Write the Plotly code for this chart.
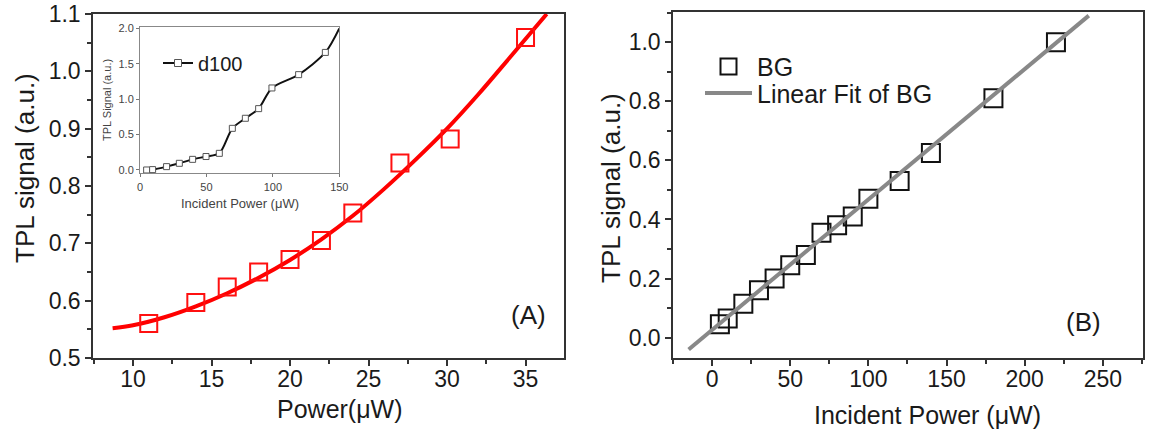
import plotly.graph_objects as go

# ---------------- data ----------------
# Panel A: main red squares and fitted curve
powerA = [11, 14, 16, 18, 20, 22, 24, 27, 30.2, 35]
tplA = [0.560, 0.597, 0.624, 0.650, 0.672, 0.705, 0.753, 0.840, 0.882, 1.059]
fitA_x = [8.7, 10, 12, 14, 16, 18, 20, 22, 24, 26, 28, 30, 32, 34, 36.35]
fitA_y = [0.552, 0.557, 0.571, 0.590, 0.613, 0.640, 0.671, 0.707, 0.748,
          0.795, 0.846, 0.900, 0.960, 1.024, 1.100]

# Inset: d100
d100_x = [5, 9.5, 20, 29.6, 39.6, 49.7, 59.7, 69.5, 79.3, 89.3, 99.3, 119.4, 139.5]
d100_y = [0.0, 0.005, 0.047, 0.094, 0.15, 0.19, 0.235, 0.588, 0.73, 0.866,
          1.158, 1.346, 1.66]
d100_curve_x = [5, 9.5, 20, 29.6, 39.6, 49.7, 59.7, 69.5, 79.3, 89.3, 99.3,
                119.4, 139.5, 150]
d100_curve_y = [0.0, 0.005, 0.047, 0.094, 0.15, 0.19, 0.235, 0.588, 0.73,
                0.866, 1.158, 1.346, 1.66, 2.0]

# Panel B: BG squares and linear fit
powerB = [5, 10, 20, 30, 40, 50, 60, 70, 80, 90, 100, 120, 140, 180, 220]
tplB = [0.045, 0.065, 0.115, 0.16, 0.20, 0.245, 0.28, 0.355, 0.38, 0.41,
        0.47, 0.53, 0.625, 0.81, 1.0]
fitB_x = [-15, 241]
fitB_y = [-0.04, 1.09]

# tick values
ticksA_x = [10, 15, 20, 25, 30, 35]
ticksA_y = [0.5, 0.6, 0.7, 0.8, 0.9, 1.0, 1.1]
ticksB_x = [0, 50, 100, 150, 200, 250]
ticksB_y = [0.0, 0.2, 0.4, 0.6, 0.8, 1.0]
ticksI_x = [0, 50, 100, 150]
ticksI_y = [0.0, 0.5, 1.0, 1.5, 2.0]

FONT = "Liberation Sans, Arial, sans-serif"
W, H = 1154, 434
AX = "#333333"
TXT = "#1a1a1a"

fig = go.Figure()

# Panel A
fig.add_trace(go.Scatter(x=fitA_x, y=fitA_y, mode="lines", line=dict(color="#ff0000", width=4, shape="spline"),
                         xaxis="x", yaxis="y", showlegend=False))
fig.add_trace(go.Scatter(x=powerA, y=tplA, mode="markers",
                         marker=dict(symbol="square-open", size=17, color="#ff1010", line=dict(width=2)),
                         xaxis="x", yaxis="y", showlegend=False))

# Inset
fig.add_trace(go.Scatter(x=d100_curve_x, y=d100_curve_y, mode="lines",
                         line=dict(color="#111111", width=2, shape="spline", smoothing=0.8),
                         xaxis="x3", yaxis="y3", showlegend=False))
fig.add_trace(go.Scatter(x=d100_x, y=d100_y, mode="markers",
                         marker=dict(symbol="square", size=6, color="white", line=dict(color="#555555", width=1)),
                         xaxis="x3", yaxis="y3", showlegend=False))
fig.add_trace(go.Scatter(x=[None], y=[None], mode="lines+markers", name="d100",
                         line=dict(color="#111111", width=2),
                         marker=dict(symbol="square", size=7, color="white", line=dict(color="#555555", width=1)),
                         xaxis="x3", yaxis="y3", legend="legend2"))

# Panel B
fig.add_trace(go.Scatter(x=powerB, y=tplB, mode="markers", name="BG",
                         marker=dict(symbol="square-open", size=18, color="#111111", line=dict(width=2)),
                         xaxis="x2", yaxis="y2", legend="legend"))
fig.add_trace(go.Scatter(x=fitB_x, y=fitB_y, mode="lines", name="Linear Fit of BG",
                         line=dict(color="#888888", width=4),
                         xaxis="x2", yaxis="y2", legend="legend3"))


def px_x(p):
    return p / W


def px_y(p):
    return 1 - p / H


main_axis = dict(showline=True, linecolor=AX, linewidth=1.5, mirror=True, ticks="outside",
                 ticklen=6, tickwidth=1.5, tickcolor=AX, showgrid=False, zeroline=False,
                 automargin=False, ticklabeloverflow="allow",
                 tickfont=dict(family=FONT, size=23, color=TXT))
inset_axis = dict(showline=True, linecolor="#888888", linewidth=1, mirror=True, ticks="outside",
                  ticklen=3, tickwidth=1, tickcolor="#777777", showgrid=False, zeroline=False,
                  automargin=False, tickfont=dict(family=FONT, size=11, color="#444444"))

legend_common = dict(xanchor="left", yanchor="middle", bgcolor="rgba(0,0,0,0)", borderwidth=0)

fig.update_layout(
    width=W, height=H, margin=dict(l=0, r=0, t=0, b=0, autoexpand=False),
    paper_bgcolor="white", plot_bgcolor="white",
    font=dict(family=FONT, color=TXT),
    xaxis=dict(main_axis, domain=[px_x(93), px_x(564)], range=[7.45, 37.45], tickvals=ticksA_x,
               ticklabelstandoff=-6,
               minor=dict(dtick=2.5, tick0=7.5, ticks="outside", ticklen=4, tickcolor=AX), anchor="y"),
    yaxis=dict(main_axis, domain=[px_y(358), px_y(14)], range=[0.5, 1.1], tickvals=ticksA_y,
               tickformat=".1f",
               minor=dict(dtick=0.05, tick0=0.5, ticks="outside", ticklen=4, tickcolor=AX), anchor="x"),
    xaxis2=dict(main_axis, domain=[px_x(673), px_x(1142.7)], range=[-25, 275.5], tickvals=ticksB_x,
                ticklabelstandoff=-6,
                minor=dict(dtick=25, tick0=0, ticks="outside", ticklen=4, tickcolor=AX), anchor="y2"),
    yaxis2=dict(main_axis, domain=[px_y(358), px_y(11.5)], range=[-0.069, 1.104], tickvals=ticksB_y,
                tickformat=".1f",
                minor=dict(dtick=0.1, tick0=0, ticks="outside", ticklen=4, tickcolor=AX), anchor="x2"),
    xaxis3=dict(inset_axis, domain=[px_x(140), px_x(339.3)], range=[0, 150], tickvals=ticksI_x, anchor="y3"),
    yaxis3=dict(inset_axis, domain=[px_y(173.3), px_y(26.7)], range=[-0.047, 2.023], tickvals=ticksI_y,
                tickformat=".1f", anchor="x3"),
    legend=dict(legend_common, x=px_x(700), y=px_y(66.7), itemwidth=47,
                font=dict(family=FONT, size=25, color=TXT)),
    legend3=dict(legend_common, x=px_x(700), y=px_y(93.3), itemwidth=47,
                 font=dict(family=FONT, size=25, color=TXT)),
    legend2=dict(legend_common, x=px_x(158), y=px_y(63), itemwidth=30,
                 font=dict(family=FONT, size=20, color=TXT)),
)

annotations = [
    dict(text="TPL signal (a.u.)", x=px_x(25), y=px_y(168), textangle=-90, font=dict(size=26)),
    dict(text="Power(μW)", x=px_x(340), y=px_y(409), font=dict(size=25)),
    dict(text="TPL signal (a.u.)", x=px_x(611), y=px_y(188), textangle=-90, font=dict(size=26)),
    dict(text="Incident Power (μW)", x=px_x(927), y=px_y(415), font=dict(size=25)),
    dict(text="(A)", x=px_x(528), y=px_y(315), font=dict(size=26)),
    dict(text="(B)", x=px_x(1083), y=px_y(322), font=dict(size=26)),
    dict(text="TPL Signal (a.u.)", x=px_x(107), y=px_y(100), textangle=-90, font=dict(size=11, color="#444444")),
    dict(text="Incident Power (μW)", x=px_x(240), y=px_y(203), font=dict(size=13, color="#444444")),
]
for a in annotations:
    a.update(xref="paper", yref="paper", showarrow=False, xanchor="center", yanchor="middle")
    a["font"] = dict(family=FONT, color=a["font"].get("color", TXT), size=a["font"]["size"])
fig.update_layout(annotations=annotations)

fig.write_html("out.html")
